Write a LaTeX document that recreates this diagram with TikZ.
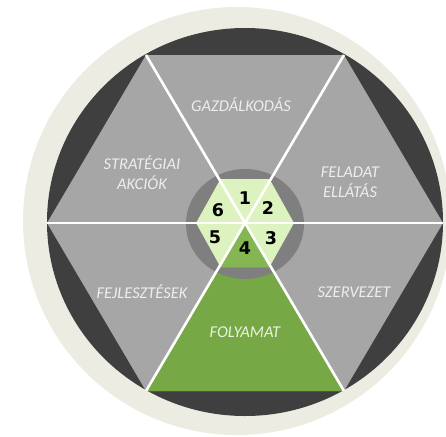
\documentclass[tikz,border=0pt]{standalone}
\usepackage{fontspec}
\usepackage{tikz}
\usetikzlibrary{calc}
\newfontfamily\labelfont{Carlito}
\newfontfamily\numfont{DejaVu Sans}
\definecolor{rimbeige}{HTML}{EDECE3}
\definecolor{rimdark}{HTML}{3F3F3F}
\definecolor{secgray}{HTML}{A6A6A6}
\definecolor{secgreen}{HTML}{77A846}
\definecolor{hubgray}{HTML}{7F7F7F}
\definecolor{hublight}{HTML}{DDF3BF}
\definecolor{hubgreen}{HTML}{84B654}
\tikzset{
  seclabel/.style={text=black!7, font=\labelfont\itshape\fontsize{16.5}{20}\selectfont, align=center},
  hubnum/.style={text=black, font=\numfont\bfseries\fontsize{17.5}{17.5}\selectfont, inner sep=0pt},
  spoke/.style={white, line width=2.6pt}
}

\begin{document}
\begin{tikzpicture}[x=1pt, y=-1pt]
		%%%%% START %%%%%
		\useasboundingbox (0, 0) rectangle (446, 436);
		\fill[white] (0, 0) rectangle (446, 436);
		
		% rings
		\fill[rimbeige] (237, 221) circle (214pt);
		\fill[rimdark] (245, 222) ellipse (198pt and 194pt);
		
		% big hexagon
		\coordinate (C) at (245, 223);
		\coordinate (V0) at (443, 223);
		\coordinate (V1) at (344, 55);
		\coordinate (V2) at (146, 55);
		\coordinate (V3) at (47, 223);
		\coordinate (V4) at (146, 391);
		\coordinate (V5) at (344, 391);
		\fill[secgray] (V0) -- (V1) -- (V2) -- (V3) -- (V4) -- (V5) -- cycle;
		\fill[secgreen] (C) -- (V4) -- (V5) -- cycle;
		
		% hub
		\fill[hubgray] (245, 224) ellipse (59pt and 55pt);
		\coordinate (W0) at (294, 223);
		\coordinate (W1) at (269.5, 179);
		\coordinate (W2) at (220.5, 179);
		\coordinate (W3) at (196, 223);
		\coordinate (W4) at (220.5, 267);
		\coordinate (W5) at (269.5, 267);
		\fill[hublight] (W0) -- (W1) -- (W2) -- (W3) -- (W4) -- (W5) -- cycle;
		\fill[hubgreen] (C) -- (W4) -- (W5) -- cycle;
		
		% spokes
		\draw[spoke] (V0) -- (V3);
		\draw[spoke] (V1) -- (V4);
		\draw[spoke] (V2) -- (V5);
		
		% labels
		\node[seclabel] (gazd) at (241, 105) {GAZDÁLKODÁS};
		\node[seclabel] (strat) at (142, 173) {STRATÉGIAI\\AKCIÓK};
		\node[seclabel] (felad) at (350, 182) {FELADAT\\ELLÁTÁS};
		\node[seclabel] (fejl) at (142, 292) {FEJLESZTÉSEK};
		\node[seclabel] (szerv) at (354, 292) {SZERVEZET};
		\node[seclabel, text=secgreen!15!white] (foly) at (245, 332) {FOLYAMAT};
		
		% numbers
		\node[hubnum] (n1) at (245, 198) {1};
		\node[hubnum] (n2) at (268, 208) {2};
		\node[hubnum] (n3) at (271, 238) {3};
		\node[hubnum] (n4) at (245, 248) {4};
		\node[hubnum] (n5) at (215, 237) {5};
		\node[hubnum] (n6) at (218, 210) {6};
		%%%%% END %%%%%
	\end{tikzpicture}
\end{document}
